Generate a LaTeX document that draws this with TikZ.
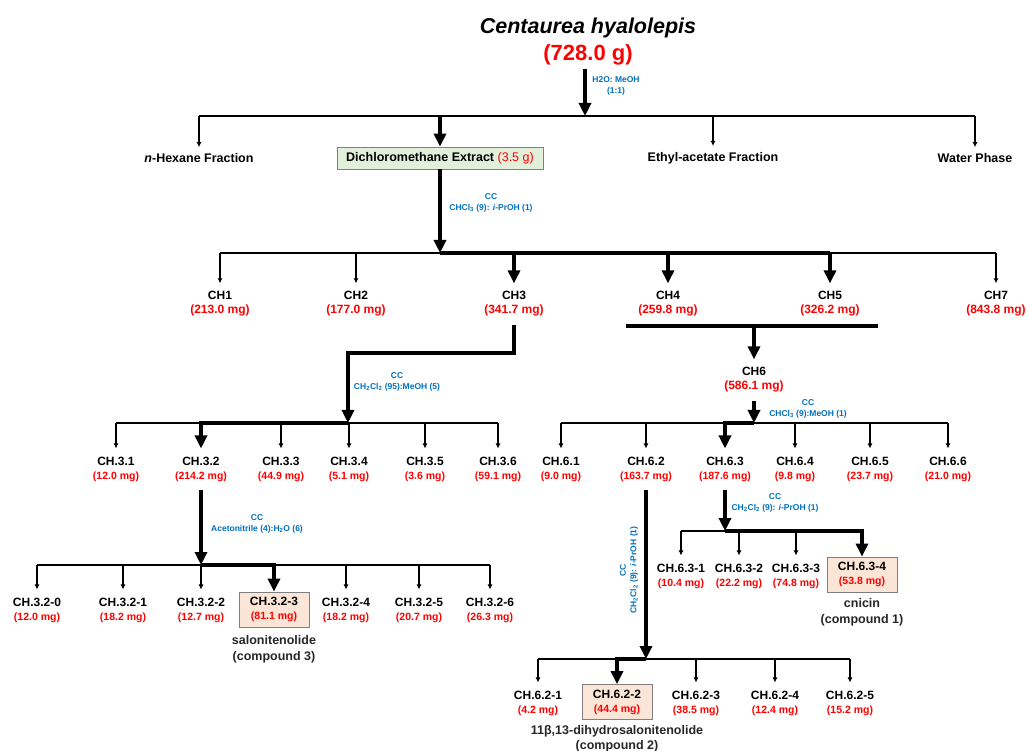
\documentclass[tikz,border=0pt]{standalone}
\usepackage{fontspec}
\setmainfont{Liberation Sans}
\usepackage{xcolor}
\usepackage{tikz}
\usetikzlibrary{positioning, arrows.meta}
\definecolor{mass}{HTML}{FF0000}
\definecolor{cond}{HTML}{0070C0}
\definecolor{ink}{HTML}{000000}
\definecolor{frame}{HTML}{7F7F7F}
\definecolor{extractfill}{HTML}{E2EFDA}
\definecolor{purefill}{HTML}{FBE5D6}
\newcommand{\amt}[1]{{\fontsize{10.5}{12}\selectfont\color{mass}(#1)}}
\newcommand{\amtbig}[1]{{\fontsize{12}{14}\selectfont\color{mass}(#1)}}
\tikzset{
  phase/.style   = {align=center, inner xsep=2pt, inner ysep=6pt,
                    font=\fontsize{12.5}{15}\selectfont\bfseries},
  extract/.style = {rectangle, draw=frame, thick, fill=extractfill,
                    minimum width=206pt, minimum height=22pt, inner sep=2pt,
                    font=\fontsize{12.5}{15}\selectfont\bfseries},
  frac/.style    = {align=center, inner xsep=2pt, inner ysep=8pt,
                    font=\fontsize{12}{14}\selectfont\bfseries},
  pure/.style    = {frac, rectangle, draw=frame, thick, fill=purefill,
                    minimum width=70pt, minimum height=35pt, inner sep=2pt},
  eluent/.style  = {align=center, text=cond, inner sep=1pt,
                    font=\fontsize{8.5}{10.5}\selectfont\bfseries},
  cpd/.style     = {align=center, text=ink!85, inner sep=1pt,
                    font=\fontsize{12.5}{15.5}\selectfont\bfseries},
  bar/.style     = {line width=1.2pt, draw=ink},
  ar/.style      = {-{Latex[length=5pt,width=5pt]}, line width=1.2pt, draw=ink},
  fbar/.style    = {line width=3.8pt, draw=ink},
  far/.style     = {-{Triangle[length=13pt,width=12pt]}, line width=3.8pt, draw=ink},
}

\begin{document}
\begin{tikzpicture}[x=1pt, y=-1pt]
  \useasboundingbox (0,0) rectangle (1029,751);

  % Plant material
  \node[font=\fontsize{21.5}{26}\selectfont\bfseries\itshape] (plant) at (588,28) {Centaurea hyalolepis};
  \node[font=\fontsize{22}{26}\selectfont\bfseries, text=mass] (crude) at (588,55) {(728.0 g)};
  \coordinate (b1) at (585,116);
  \node[eluent] (e0) at (616,86) {H2O: MeOH\\(1:1)};

  % Partition
  \node[phase] (hex)   at (199,158) {\textit{n}-Hexane Fraction};
  \node[extract] (dcm) at (440,158) {Dichloromethane Extract {\mdseries\color{mass}(3.5 g)}};
  \node[phase] (etac)  at (713,158) {Ethyl-acetate Fraction};
  \node[phase] (water) at (975,158) {Water Phase};

  \draw[far] (b1 |- crude.south) -- (b1);
  \draw[bar] (hex.north |- b1) -- (water.north |- b1);
  \draw[ar]  (hex.north |- b1) -- (hex.north);
  \draw[far] (dcm.north |- b1) -- (dcm.north);
  \draw[ar]  (etac.north |- b1) -- (etac.north);
  \draw[ar]  (water.north |- b1) -- (water.north);

  % CC of the dichloromethane extract
  \coordinate (b2) at (440,253);
  \node[eluent] (e1) at (491,203) {CC\\CHCl\textsubscript{3} (9): \textit{i}-PrOH (1)};
  \node[frac] (ch1) at (220,304) {CH1\\\amtbig{213.0 mg}};
  \node[frac] (ch2) at (356,304) {CH2\\\amtbig{177.0 mg}};
  \node[frac] (ch3) at (514,304) {CH3\\\amtbig{341.7 mg}};
  \node[frac] (ch4) at (668,304) {CH4\\\amtbig{259.8 mg}};
  \node[frac] (ch5) at (830,304) {CH5\\\amtbig{326.2 mg}};
  \node[frac] (ch7) at (996,304) {CH7\\\amtbig{843.8 mg}};

  \draw[far] (dcm.south) -- (b2);
  \draw[bar] (ch1.north |- b2) -- (b2);
  \draw[fbar] (b2) -- (ch5.north |- b2);
  \draw[bar] (ch5.north |- b2) -- (ch7.north |- b2);
  \draw[ar]  (ch1.north |- b2) -- (ch1.north);
  \draw[ar]  (ch2.north |- b2) -- (ch2.north);
  \draw[far] (ch3.north |- b2) -- (ch3.north);
  \draw[far] (ch4.north |- b2) -- (ch4.north);
  \draw[far] (ch5.north |- b2) -- (ch5.north);
  \draw[ar]  (ch7.north |- b2) -- (ch7.north);

  % CH4 + CH5 pooled
  \coordinate (m45L) at (626,326);
  \coordinate (m45R) at (878,326);
  \node[frac] (ch6) at (754,380) {CH6\\\amtbig{586.1 mg}};
  \draw[fbar] (m45L) -- (m45R);
  \draw[far] (ch6.north |- m45L) -- (ch6.north);

  % CC of CH3
  \coordinate (k3) at (348,353);
  \coordinate (b3L) at (348,423);
  \node[eluent] (e3) at (397,382) {CC\\CH\textsubscript{2}Cl\textsubscript{2} (95):MeOH (5)};
  \node[frac] (c31) at (116,469) {CH.3.1\\\amt{12.0 mg}};
  \node[frac] (c32) at (201,469) {CH.3.2\\\amt{214.2 mg}};
  \node[frac] (c33) at (281,469) {CH.3.3\\\amt{44.9 mg}};
  \node[frac] (c34) at (349,469) {CH.3.4\\\amt{5.1 mg}};
  \node[frac] (c35) at (425,469) {CH.3.5\\\amt{3.6 mg}};
  \node[frac] (c36) at (498,469) {CH.3.6\\\amt{59.1 mg}};

  \draw[far] (ch3.south) |- (k3) -- (b3L);
  \draw[bar] (c31.north |- b3L) -- (c36.north |- b3L);
  \draw[far] (b3L) -- (c32.north |- b3L) -- (c32.north);
  \draw[ar]  (c31.north |- b3L) -- (c31.north);
  \draw[ar]  (c33.north |- b3L) -- (c33.north);
  \draw[ar]  (c34.north |- b3L) -- (c34.north);
  \draw[ar]  (c35.north |- b3L) -- (c35.north);
  \draw[ar]  (c36.north |- b3L) -- (c36.north);

  % CC of CH6
  \coordinate (b6) at (754,423);
  \node[eluent] (e6) at (808,409) {CC\\CHCl\textsubscript{3} (9):MeOH (1)};
  \node[frac] (c61) at (561,469) {CH.6.1\\\amt{9.0 mg}};
  \node[frac] (c62) at (646,469) {CH.6.2\\\amt{163.7 mg}};
  \node[frac] (c63) at (725,469) {CH.6.3\\\amt{187.6 mg}};
  \node[frac] (c64) at (795,469) {CH.6.4\\\amt{9.8 mg}};
  \node[frac] (c65) at (870,469) {CH.6.5\\\amt{23.7 mg}};
  \node[frac] (c66) at (948,469) {CH.6.6\\\amt{21.0 mg}};

  \draw[far] (ch6.south) -- (b6);
  \draw[bar] (c61.north |- b6) -- (c66.north |- b6);
  \draw[far] (b6) -- (c63.north |- b6) -- (c63.north);
  \draw[ar]  (c61.north |- b6) -- (c61.north);
  \draw[ar]  (c62.north |- b6) -- (c62.north);
  \draw[ar]  (c64.north |- b6) -- (c64.north);
  \draw[ar]  (c65.north |- b6) -- (c65.north);
  \draw[ar]  (c66.north |- b6) -- (c66.north);

  % CC of CH.3.2
  \coordinate (b4) at (201,565);
  \node[eluent] (e32) at (257,524) {CC\\Acetonitrile (4):H\textsubscript{2}O (6)};
  \node[frac] (c320) at (37,610)  {CH.3.2-0\\\amt{12.0 mg}};
  \node[frac] (c321) at (123,610) {CH.3.2-1\\\amt{18.2 mg}};
  \node[frac] (c322) at (201,610) {CH.3.2-2\\\amt{12.7 mg}};
  \node[pure] (c323) at (274,609.5) {CH.3.2-3\\\amt{81.1 mg}};
  \node[frac] (c324) at (346,610) {CH.3.2-4\\\amt{18.2 mg}};
  \node[frac] (c325) at (419,610) {CH.3.2-5\\\amt{20.7 mg}};
  \node[frac] (c326) at (490,610) {CH.3.2-6\\\amt{26.3 mg}};
  \node[cpd, below=7pt of c323] (sal) {salonitenolide\\(compound 3)};

  \draw[far] (c32.south) -- (b4);
  \draw[bar] (c320.north |- b4) -- (c326.north |- b4);
  \draw[far] (b4) -- (c323.north |- b4) -- (c323.north);
  \draw[ar]  (c320.north |- b4) -- (c320.north);
  \draw[ar]  (c321.north |- b4) -- (c321.north);
  \draw[ar]  (c322.north |- b4) -- (c322.north);
  \draw[ar]  (c324.north |- b4) -- (c324.north);
  \draw[ar]  (c325.north |- b4) -- (c325.north);
  \draw[ar]  (c326.north |- b4) -- (c326.north);

  % CC of CH.6.3
  \coordinate (b5) at (725,531);
  \node[eluent] (e63) at (775,503) {CC\\CH\textsubscript{2}Cl\textsubscript{2} (9): \textit{i}-PrOH (1)};
  \node[frac] (c631) at (681,576) {CH.6.3-1\\\amt{10.4 mg}};
  \node[frac] (c632) at (739,576) {CH.6.3-2\\\amt{22.2 mg}};
  \node[frac] (c633) at (796,576) {CH.6.3-3\\\amt{74.8 mg}};
  \node[pure] (c634) at (862,574.5) {CH.6.3-4\\\amt{53.8 mg}};
  \node[cpd, below=5pt of c634] (cni) {cnicin\\(compound 1)};

  \draw[far] (c63.south) -- (b5);
  \draw[bar] (c631.north |- b5) -- (b5);
  \draw[far] (b5) -- (c634.north |- b5) -- (c634.north);
  \draw[ar]  (c631.north |- b5) -- (c631.north);
  \draw[ar]  (c632.north |- b5) -- (c632.north);
  \draw[ar]  (c633.north |- b5) -- (c633.north);

  % CC of CH.6.2
  \coordinate (b7) at (646,659);
  \node[eluent, rotate=90] (e62) at (629,570) {CC\\CH\textsubscript{2}Cl\textsubscript{2} (9): \textit{i}-PrOH (1)};
  \node[frac] (c621) at (538,703) {CH.6.2-1\\\amt{4.2 mg}};
  \node[pure] (c622) at (617,702) {CH.6.2-2\\\amt{44.4 mg}};
  \node[frac] (c623) at (696,703) {CH.6.2-3\\\amt{38.5 mg}};
  \node[frac] (c624) at (775,703) {CH.6.2-4\\\amt{12.4 mg}};
  \node[frac] (c625) at (850,703) {CH.6.2-5\\\amt{15.2 mg}};
  \node[cpd, below=4pt of c622] (dhs) {11β,13-dihydrosalonitenolide\\(compound 2)};

  \draw[far] (c62.south) -- (b7);
  \draw[bar] (c621.north |- b7) -- (c625.north |- b7);
  \draw[far] (b7) -- (c622.north |- b7) -- (c622.north);
  \draw[ar]  (c621.north |- b7) -- (c621.north);
  \draw[ar]  (c623.north |- b7) -- (c623.north);
  \draw[ar]  (c624.north |- b7) -- (c624.north);
  \draw[ar]  (c625.north |- b7) -- (c625.north);

\end{tikzpicture}
\end{document}
